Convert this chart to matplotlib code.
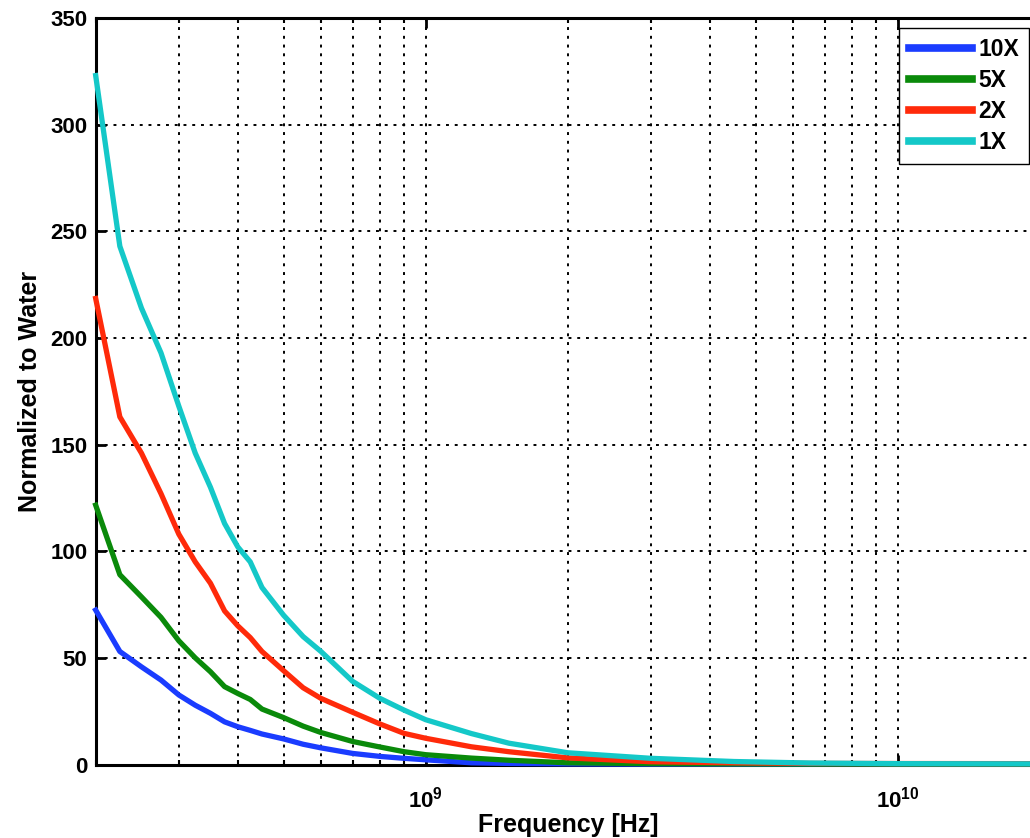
import numpy as np
import matplotlib
import matplotlib.pyplot as plt
from matplotlib.ticker import FixedLocator, FuncFormatter, NullFormatter

matplotlib.use('Agg')

plt.rcParams['font.family'] = ['Liberation Sans', 'DejaVu Sans']
plt.rcParams['font.weight'] = 'bold'
plt.rcParams['mathtext.fontset'] = 'custom'
plt.rcParams['mathtext.bf'] = 'Liberation Sans:bold'
plt.rcParams['mathtext.rm'] = 'Liberation Sans:bold'

# frequency points (Hz)
freq = [2.0e8, 2.25e8, 2.5e8, 2.75e8, 3.0e8, 3.25e8, 3.5e8, 3.75e8, 4.0e8, 4.25e8,
        4.5e8, 5.0e8, 5.5e8, 6.0e8, 7.0e8, 8.0e8, 9.0e8, 1.0e9, 1.25e9, 1.5e9,
        2.0e9, 3.0e9, 4.5e9, 6.5e9, 1.0e10, 2.0e10]

conc_10x = [72.4, 53.0, 45.8, 39.6, 32.6, 27.8, 24.0, 20.0, 17.7, 16.0,
            14.3, 12.0, 9.5, 7.8, 5.2, 3.8, 2.9, 2.2, 0.8, 0.5,
            0.3, 0.2, 0.2, 0.2, 0.2, 0.2]
conc_5x = [121.6, 89.0, 78.6, 69.0, 58.0, 50.0, 43.5, 36.5, 33.3, 30.5,
           26.0, 22.0, 18.0, 15.0, 10.8, 8.2, 6.0, 4.6, 3.0, 2.0,
           0.8, 0.4, 0.3, 0.2, 0.2, 0.2]
conc_2x = [218.5, 163.0, 146.0, 127.0, 108.0, 95.0, 85.0, 72.0, 65.0, 59.5,
           53.0, 44.0, 36.0, 31.0, 24.5, 19.0, 14.6, 12.3, 8.3, 6.0,
           3.1, 1.3, 0.8, 0.5, 0.45, 0.4]
conc_1x = [323.0, 243.0, 214.0, 193.0, 168.0, 146.0, 130.0, 113.0, 102.0, 95.0,
           83.0, 70.0, 60.0, 53.0, 39.0, 31.0, 25.5, 21.0, 14.5, 10.0,
           5.5, 2.9, 1.4, 0.7, 0.4, 0.3]

labels = ['10X', '5X', '2X', '1X']
colors = ['#1a3cff', '#0a8a0a', '#ff2a0a', '#14c8c8']

fig = plt.figure(figsize=(10.3, 8.38), dpi=100)
# axes runs slightly past the right edge, like the cropped original
ax = fig.add_axes([0.0929, 0.0877, 0.9168, 0.8908])

for y, c, lab in zip([conc_10x, conc_5x, conc_2x, conc_1x], colors, labels):
    ax.plot(freq, y, color=c, lw=3.8, label=lab, zorder=3, clip_on=False,
            solid_joinstyle='round')

ax.set_xscale('log')
ax.set_xlim(2e8, 2e10)
ax.set_ylim(0, 350)
ax.set_yticks(np.arange(0, 351, 50))

ax.xaxis.set_major_locator(FixedLocator([1e9, 1e10]))
minor = [m * 10 ** e for e in (8, 9) for m in range(2, 10)]
ax.xaxis.set_minor_locator(FixedLocator(minor))
ax.xaxis.set_minor_formatter(NullFormatter())
ax.xaxis.set_major_formatter(FuncFormatter(lambda v, p: r'$\mathbf{10^{%d}}$' % round(np.log10(v))))

ax.grid(True, which='major', axis='both', color='black', linestyle=(0, (1.5, 3.0)), lw=1.4)
ax.grid(True, which='minor', axis='x', color='black', linestyle=(0, (1.5, 3.0)), lw=1.4)

for s in ax.spines.values():
    s.set_linewidth(2.2)

ax.tick_params(which='major', direction='in', length=7, width=2, top=True, right=True,
               labelsize=16)
ax.tick_params(axis='x', which='major', pad=16)
ax.tick_params(axis='y', which='major', pad=6)
ax.tick_params(which='minor', direction='in', length=3.5, width=1.5, top=True)

ax.set_xlabel('Frequency [Hz]', fontsize=18, fontweight='bold', labelpad=0)
ax.set_ylabel('Normalized to Water', fontsize=18, fontweight='bold', labelpad=6)

leg = ax.legend(loc='upper right', bbox_to_anchor=(0.9884, 0.9866), borderaxespad=0,
                fontsize=16.5, fancybox=False, edgecolor='black', framealpha=1,
                handlelength=2.75, handletextpad=0.3, labelspacing=0.36, borderpad=0.42)
leg.get_frame().set_linewidth(1.0)
for line in leg.get_lines():
    line.set_linewidth(5.5)

fig.savefig('out.png', dpi=100)
